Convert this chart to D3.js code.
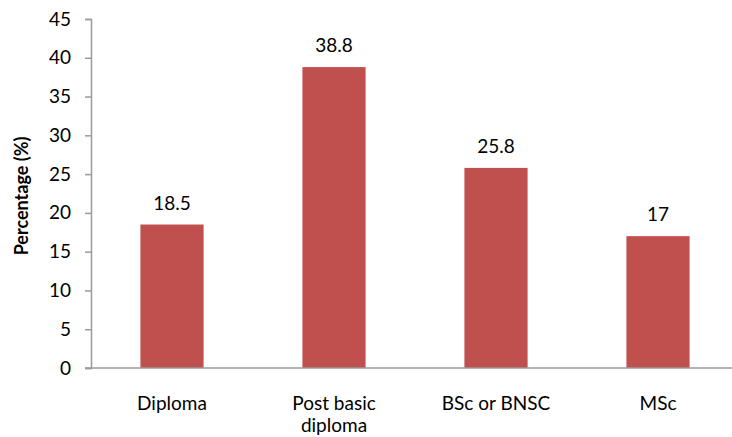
<!DOCTYPE html>
<html>
<head>
<meta charset="utf-8">
<script src="https://cdn.jsdelivr.net/npm/d3@7"></script>
<style>
  body { margin: 0; background: #fff; }
  text { font-family: Lato, "Open Sans", sans-serif; fill: #000; }
</style>
</head>
<body>
<div id="chart"></div>
<script>
const categories = ["Diploma", "Post basic diploma", "BSc or BNSC", "MSc"];
const values = [18.5, 38.8, 25.8, 17];
const valueLabels = ["18.5", "38.8", "25.8", "17"];
const yTicks = [0, 5, 10, 15, 20, 25, 30, 35, 40, 45];

const width = 732, height = 437;
const plotLeft = 91, plotTop = 19, plotBottom = 368;
const fontSize = "19px";

const svg = d3.select("#chart").append("svg")
    .attr("width", width)
    .attr("height", height);

const x = d3.scaleBand()
    .domain(categories)
    .range([plotLeft, plotLeft + 648])
    .paddingInner(0.61)
    .paddingOuter(0.305);

const y = d3.scaleLinear()
    .domain([0, 45])
    .range([plotBottom, plotTop]);

// bars
svg.selectAll("rect.bar")
    .data(values)
    .enter()
    .append("rect")
    .attr("class", "bar")
    .attr("x", (d, i) => x(categories[i]))
    .attr("y", d => y(d))
    .attr("width", x.bandwidth())
    .attr("height", d => y(0) - y(d))
    .attr("fill", "#c0504d");

// value labels
svg.selectAll("text.val")
    .data(values)
    .enter()
    .append("text")
    .attr("class", "val")
    .attr("x", (d, i) => x(categories[i]) + x.bandwidth() / 2)
    .attr("y", d => y(d) - 15)
    .attr("text-anchor", "middle")
    .style("font-size", fontSize)
    .text((d, i) => valueLabels[i]);

// y axis
const yAxis = svg.append("g")
    .attr("transform", "translate(" + plotLeft + ",0)")
    .call(d3.axisLeft(y).tickValues(yTicks).tickSize(6).tickPadding(14));
yAxis.select(".domain").attr("stroke", "#9a9a9a").attr("stroke-width", 1.5);
yAxis.selectAll(".tick line").attr("stroke", "#9a9a9a").attr("stroke-width", 1.5);
yAxis.selectAll(".tick text")
    .style("font-size", fontSize)
    .style("font-family", "Lato, 'Open Sans', sans-serif")
    .attr("fill", "#000");

// x axis line
svg.append("line")
    .attr("x1", plotLeft - 6)
    .attr("x2", width)
    .attr("y1", y(0))
    .attr("y2", y(0))
    .attr("stroke", "#9a9a9a")
    .attr("stroke-width", 1.5);

// category labels (wrapped like the original)
const catLines = [["Diploma"], ["Post basic", "diploma"], ["BSc or BNSC"], ["MSc"]];
catLines.forEach((lines, i) => {
    const cx = x(categories[i]) + x.bandwidth() / 2;
    const t = svg.append("text")
        .attr("x", cx)
        .attr("y", 410)
        .attr("text-anchor", "middle")
        .style("font-size", fontSize);
    lines.forEach((l, j) => {
        t.append("tspan")
            .attr("x", cx)
            .attr("dy", j === 0 ? 0 : 22)
            .text(l);
    });
});

// y axis title
svg.append("text")
    .attr("transform", "translate(28,196) rotate(-90)")
    .attr("text-anchor", "middle")
    .style("font-size", "18px")
    .style("font-weight", "bold")
    .text("Percentage (%)");
</script>
</body>
</html>
